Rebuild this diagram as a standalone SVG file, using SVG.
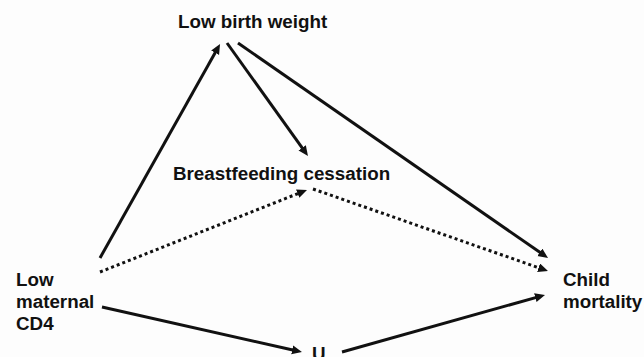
<svg xmlns="http://www.w3.org/2000/svg" width="644" height="357" viewBox="0 0 644 357">
<style>
text{font-family:"Liberation Sans",Arial,sans-serif;font-weight:bold;font-size:18.8px;fill:#111}
.c{stroke:#111;stroke-width:3;fill:none;marker-end:url(#ah)}
.d{stroke-dasharray:3 3}
</style>
<defs>
<marker id="ah" markerUnits="userSpaceOnUse" markerWidth="12" markerHeight="10" refX="4" refY="4.5" orient="auto">
<path d="M0,0 L10,4.5 L0,9 z" fill="#111"/>
</marker>
</defs>
<rect width="644" height="357" fill="#fdfdfd"/>
<g id="connectors">
<line class="c" x1="100" y1="258" x2="217.1" y2="49.2"/>
<line class="c" x1="227" y1="43" x2="304.5" y2="151.1"/>
<line class="c" x1="238" y1="43" x2="543.1" y2="254.6"/>
<line class="c d" x1="100" y1="272" x2="301.4" y2="192.2"/>
<line class="c d" x1="313" y1="189" x2="542.3" y2="269"/>
<line class="c" x1="102" y1="307" x2="296.1" y2="350.7"/>
<line class="c" x1="342" y1="352" x2="539.2" y2="296.6"/>
</g>
<g id="lbw"><text x="178" y="28">Low birth weight</text></g>
<g id="bf"><text x="173" y="180">Breastfeeding cessation</text></g>
<g id="cd4"><text x="16" y="286">Low</text><text x="16" y="308">maternal</text><text x="16" y="330">CD4</text></g>
<g id="cm"><text x="563" y="286">Child</text><text x="563" y="308">mortality</text></g>
<g id="u"><text x="312" y="360">U</text></g>
</svg>
